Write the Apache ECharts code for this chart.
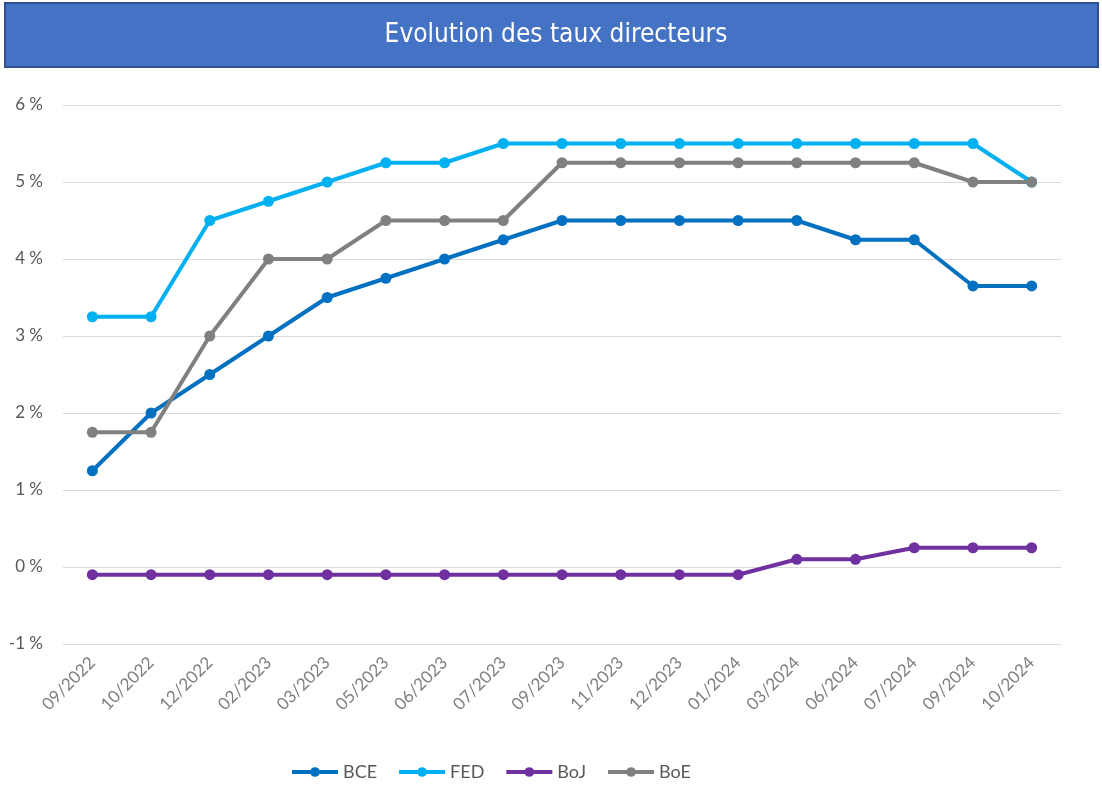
<!DOCTYPE html>
<html>
<head>
<meta charset="utf-8">
<script src="https://cdn.jsdelivr.net/npm/echarts@6/dist/echarts.min.js"></script>
<style>
	html, body { margin:0; padding:0; background:#fff; }
	#chart { width:1102px; height:794px; }
</style>
</head>
<body>
<div id="chart"></div>
<script>
	var months = ['09/2022','10/2022','12/2022','02/2023','03/2023','05/2023','06/2023','07/2023','09/2023',
		'11/2023','12/2023','01/2024','03/2024','06/2024','07/2024','09/2024','10/2024'];
	var bce = [1.25, 2, 2.5, 3, 3.5, 3.75, 4, 4.25, 4.5, 4.5, 4.5, 4.5, 4.5, 4.25, 4.25, 3.65, 3.65];
	var fed = [3.25, 3.25, 4.5, 4.75, 5, 5.25, 5.25, 5.5, 5.5, 5.5, 5.5, 5.5, 5.5, 5.5, 5.5, 5.5, 5];
	var boj = [-0.1, -0.1, -0.1, -0.1, -0.1, -0.1, -0.1, -0.1, -0.1, -0.1, -0.1, -0.1, 0.1, 0.1, 0.25, 0.25, 0.25];
	var boe = [1.75, 1.75, 3, 4, 4, 4.5, 4.5, 4.5, 5.25, 5.25, 5.25, 5.25, 5.25, 5.25, 5.25, 5, 5];

	var chart = echarts.init(document.getElementById('chart'));

	function line(name, data, color){
		return {
			name: name,
			type: 'line',
			data: data,
			symbol: 'circle',
			symbolSize: 11,
			lineStyle: { width: 4, color: color },
			itemStyle: { color: color }
		};
	}

	chart.setOption({
		animation: false,
		graphic: [
			{
				type: 'rect',
				shape: { x: 5, y: 3, width: 1093, height: 64 },
				style: { fill: '#4472C4', stroke: '#2F528F', lineWidth: 2 }
			},
			{
				type: 'text',
				x: 556, y: 35,
				style: {
					text: 'Evolution des taux directeurs',
					fill: '#fff',
					font: '26px "Liberation Sans Narrow", "DejaVu Sans Condensed", sans-serif',
					align: 'center',
					verticalAlign: 'middle'
				}
			}
		],
		legend: {
			bottom: 8,
			left: 285,
			itemWidth: 46,
			itemHeight: 12,
			itemGap: 20,
			lineStyle: { width: 4 },
			textStyle: { color: '#595959', fontSize: 18, fontFamily: 'Lato' },
			data: ['BCE','FED','BoJ','BoE']
		},
		grid: { left: 63, right: 41, top: 105, bottom: 150 },
		xAxis: {
			type: 'category',
			data: months,
			axisLine: { show: false },
			axisTick: { show: false },
			axisLabel: { rotate: 45, color: '#7f7f7f', fontSize: 17, fontFamily: 'Lato', margin: 16 }
		},
		yAxis: {
			type: 'value',
			min: -1, max: 6, interval: 1,
			axisLabel: { formatter: '{value} %', color: '#595959', fontSize: 17, fontFamily: 'Lato', margin: 20 },
			splitLine: { lineStyle: { color: '#d9d9d9', width: 1 } }
		},
		series: [
			line('BCE', bce, '#0070C0'),
			line('FED', fed, '#00B0F0'),
			line('BoJ', boj, '#7030A0'),
			line('BoE', boe, '#808080')
		]
	});
</script>
</body>
</html>
